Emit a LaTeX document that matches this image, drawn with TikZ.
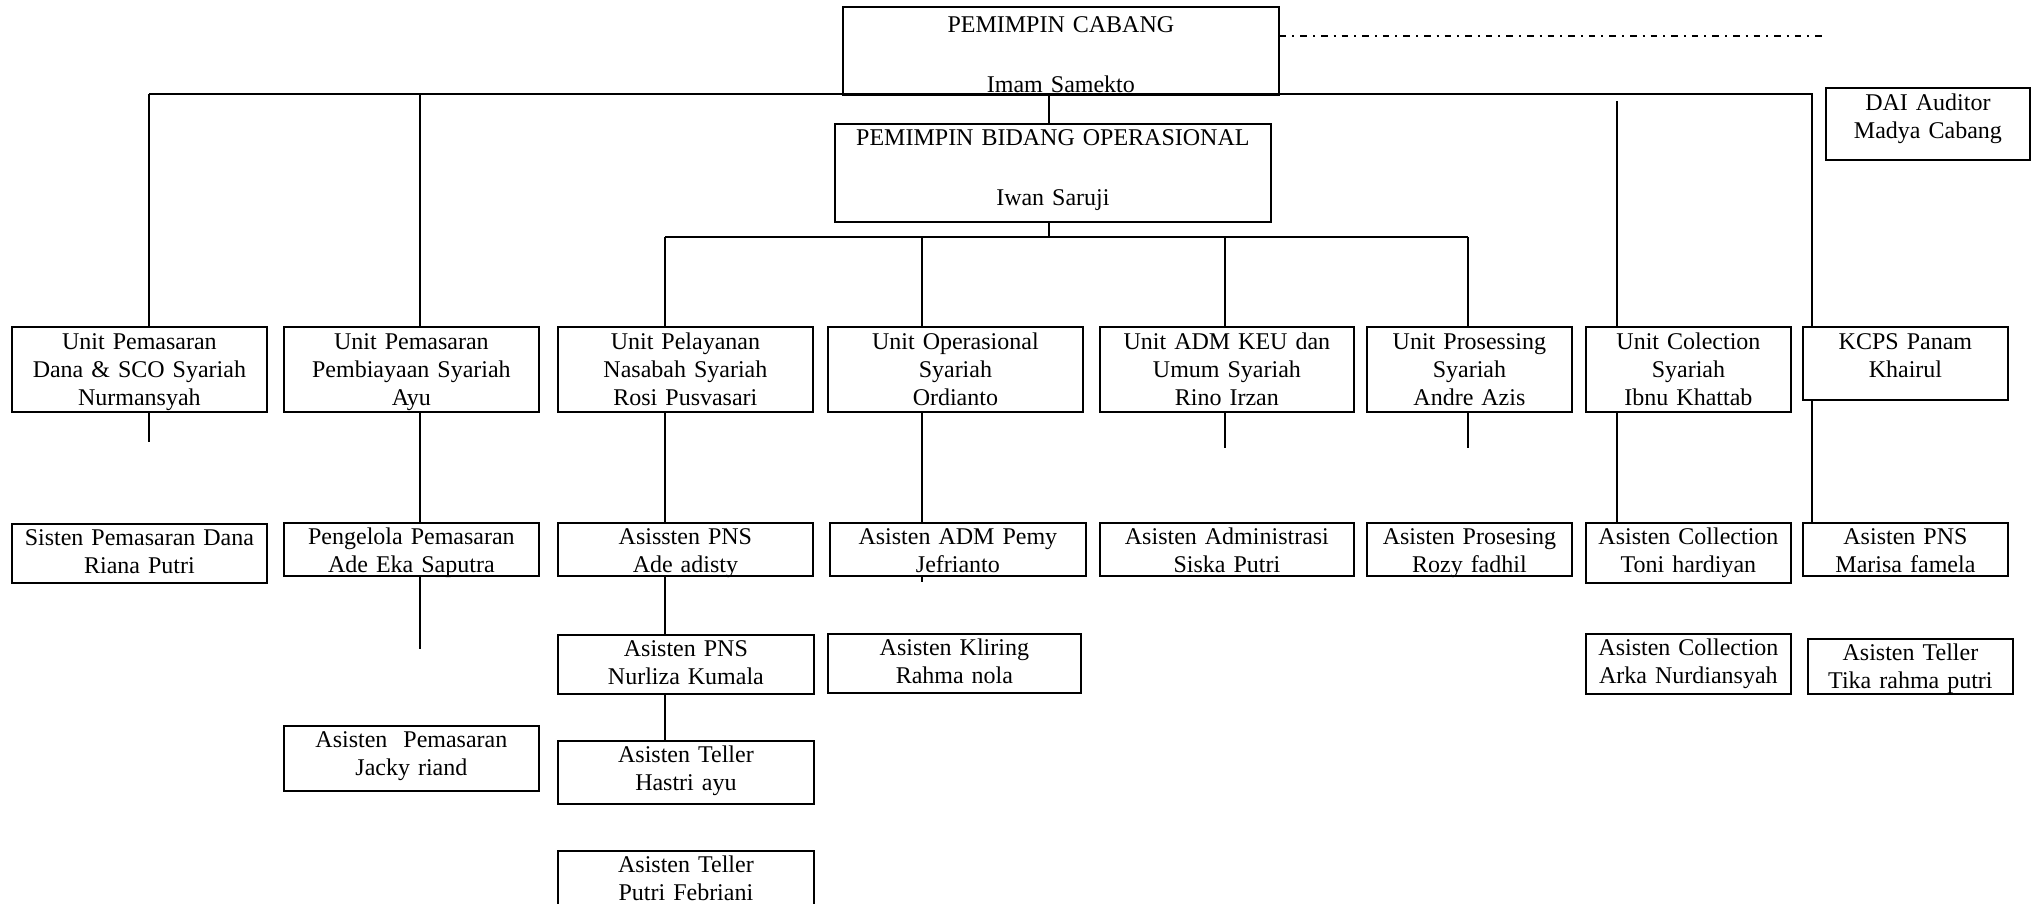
\documentclass[tikz,border=0pt]{standalone}
\usepackage{fontspec}
\setmainfont{Liberation Serif}

\begin{document}
\begin{tikzpicture}[
x=0.5pt, y=-0.5pt,
font=\fontsize{12}{14}\selectfont,
unit/.style={
draw,
line width=0.9pt,
rectangle,
anchor=north west,
inner sep=0pt,
align=center,
text height=11.5pt},
staff/.style={unit, text height=11pt},
link/.style={line width=0.7pt}]

\useasboundingbox (0,0) rectangle (2033,904);
\clip (0,0) rectangle (2033,904);

% top of the branch
\node[unit,text width=218pt,text height=13pt,text depth=31pt](cabang) at (842,6) {PEMIMPIN CABANG\\[16pt]Imam Samekto};
\node[unit,text width=218pt,text height=11pt,text depth=38pt](bidang) at (834,123) {PEMIMPIN BIDANG OPERASIONAL\\[16pt]Iwan Saruji};
\node[unit,text width=102pt,text depth=24.5pt](dai) at (1825,87) {DAI Auditor\\Madya Cabang};

% units
\node[unit,text width=127.5pt,text depth=31pt](dana) at (11,326) {Unit Pemasaran\\Dana \& SCO Syariah\\Nurmansyah};
\node[unit,text width=127.5pt,text depth=31pt](biaya) at (283,326) {Unit Pemasaran\\Pembiayaan Syariah\\Ayu};
\node[unit,text width=127.5pt,text depth=31pt](layan) at (557,326) {Unit Pelayanan\\Nasabah Syariah\\Rosi Pusvasari};
\node[unit,text width=127.5pt,text depth=31pt](ops) at (827,326) {Unit Operasional\\Syariah\\Ordianto};
\node[unit,text width=127pt,text depth=31pt](keu) at (1099,326) {Unit ADM KEU dan\\Umum Syariah\\Rino Irzan};
\node[unit,text width=102.5pt,text depth=31pt](proses) at (1366,326) {Unit Prosessing\\Syariah\\Andre Azis};
\node[unit,text width=102.5pt,text depth=31pt](koleksi) at (1585,326) {Unit Colection\\Syariah\\Ibnu Khattab};
\node[unit,text width=102.5pt,text depth=25pt](kcps) at (1802,326) {KCPS Panam\\Khairul};

% staff, first row
\node[staff,text width=127.5pt,text depth=18.5pt](sisten) at (11,523) {Sisten Pemasaran Dana\\Riana Putri};
\node[staff,text width=127.5pt,text depth=15.5pt](kelola) at (283,522) {Pengelola Pemasaran\\Ade Eka Saputra};
\node[staff,text width=127.5pt,text depth=15.5pt](pns1) at (557,522) {Asissten PNS\\Ade adisty};
\node[staff,text width=128pt,text depth=15.5pt](admpemy) at (829,522) {Asisten ADM Pemy\\Jefrianto};
\node[staff,text width=127pt,text depth=15.5pt](adminis) at (1099,522) {Asisten Administrasi\\Siska Putri};
\node[staff,text width=102.5pt,text depth=15.5pt](prosesing) at (1366,522) {Asisten Prosesing\\Rozy fadhil};
\node[staff,text width=102.5pt,text depth=19pt](col1) at (1585,522) {Asisten Collection\\Toni hardiyan};
\node[staff,text width=102.5pt,text depth=15.5pt](pns4) at (1802,522) {Asisten PNS\\Marisa famela};

% staff, lower rows
\node[staff,text width=128pt,text depth=18.5pt](pns2) at (557,634) {Asisten PNS\\Nurliza Kumala};
\node[staff,text width=126.5pt,text depth=18.5pt](kliring) at (827,633) {Asisten Kliring\\Rahma nola};
\node[staff,text width=102.5pt,text depth=19pt](col2) at (1585,633) {Asisten Collection\\Arka Nurdiansyah};
\node[staff,text width=102.5pt,text depth=16.5pt](teller3) at (1807,638) {Asisten Teller\\Tika rahma putri};
\node[staff,text width=127.5pt,text depth=21.5pt](pemasar) at (283,725) {Asisten\ \ Pemasaran\\Jacky riand};
\node[staff,text width=128pt,text depth=20.5pt](teller1) at (557,740) {Asisten Teller\\Hastri ayu};
\node[staff,text width=128pt,text depth=24pt](teller2) at (557,850) {Asisten Teller\\Putri Febriani};

% bus lines
\coordinate (b1) at (149,94);
\coordinate (b2) at (420,94);
\coordinate (bm) at (1049,94);
\coordinate (b7) at (1617,101);
\coordinate (b8) at (1812,94);
\coordinate (s3) at (665,237);
\coordinate (s4) at (922,237);
\coordinate (s5) at (1225,237);
\coordinate (s6) at (1468,237);
\coordinate (dd) at (1822,36);

\draw[link] (b1) -- (b8) -- (b8 |- kcps.north);
\draw[link] (b1) -- (b1 |- dana.north);
\draw[link] (b2) -- (b2 |- biaya.north);
\draw[link] (bm) -- (bm |- bidang.north);
\draw[link] (bidang.south -| bm) -- (bm |- s3);
\draw[link] (s3) -- (s6);
\foreach \s/\n in {s3/layan, s4/ops, s5/keu, s6/proses}
  \draw[link] (\s) -- (\s |- \n.north);
\draw[link] (b7) -- (b7 |- koleksi.north);
\draw[link, dash pattern=on 3.3pt off 3pt on 1pt off 3pt] (cabang.east |- dd) -- (dd);

% down to the staff (some end short)
\coordinate (t1) at (149,442);
\coordinate (t2) at (420,649);
\coordinate (t4) at (922,582);
\coordinate (t5) at (1225,448);
\coordinate (t6) at (1468,448);
\draw[link] (dana.south -| t1) -- (t1);
\draw[link] (biaya.south -| b2) -- (b2 |- kelola.north);
\draw[link] (kelola.south -| t2) -- (t2);
\draw[link] (layan.south -| s3) -- (s3 |- pns1.north);
\draw[link] (pns1.south -| s3) -- (s3 |- pns2.north);
\draw[link] (pns2.south -| s3) -- (s3 |- teller1.north);
\draw[link] (ops.south -| s4) -- (s4 |- admpemy.north);
\draw[link] (admpemy.south -| t4) -- (t4);
\draw[link] (keu.south -| t5) -- (t5);
\draw[link] (proses.south -| t6) -- (t6);
\draw[link] (koleksi.south -| b7) -- (b7 |- col1.north);
\draw[link] (kcps.south -| b8) -- (b8 |- pns4.north);
\end{tikzpicture}
\end{document}
